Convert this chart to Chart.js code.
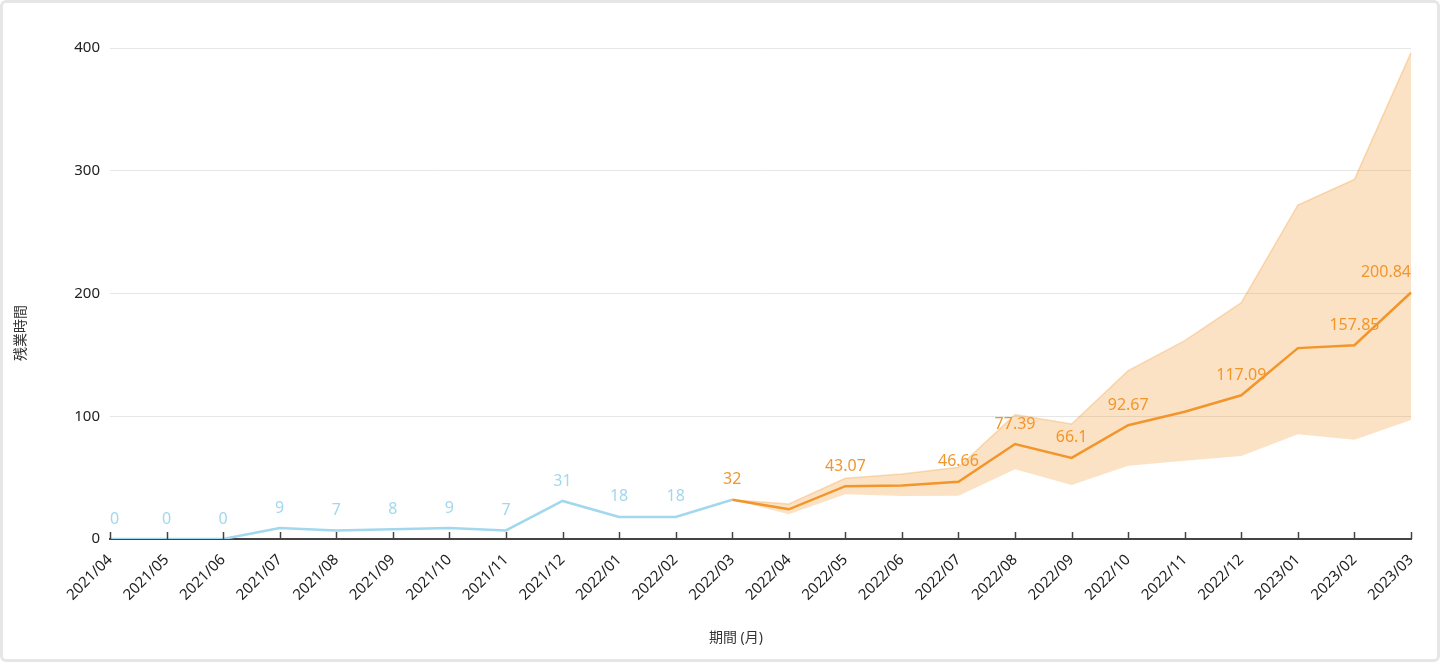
<!DOCTYPE html>
<html lang="ja">
<head>
<meta charset="utf-8">
<title>残業時間</title>
<script src="https://cdn.jsdelivr.net/npm/chart.js@4.4.1/dist/chart.umd.min.js"></script>
<style>
    html, body { margin: 0; padding: 0; background: #fff; }
    #wrap { position: relative; width: 1440px; height: 662px; }
    #frame {
        position: absolute; left: 0; top: 0; right: 0; bottom: 0;
        border: 3px solid #e6e6e6; border-radius: 6px; pointer-events: none;
    }
</style>
</head>
<body>
<div id="wrap">
    <canvas id="chart" width="1440" height="662"></canvas>
    <div id="frame"></div>
</div>
<script>
// months on the x axis
const months = [
    '2021/04', '2021/05', '2021/06', '2021/07', '2021/08', '2021/09',
    '2021/10', '2021/11', '2021/12', '2022/01', '2022/02', '2022/03',
    '2022/04', '2022/05', '2022/06', '2022/07', '2022/08', '2022/09',
    '2022/10', '2022/11', '2022/12', '2023/01', '2023/02', '2023/03'
];

// actual overtime hours
const actualHours = [0, 0, 0, 9, 7, 8, 9, 7, 31, 18, 18, 32,
    null, null, null, null, null, null, null, null, null, null, null, null];

// forecast (starts at the last actual month)
const forecastHours = [null, null, null, null, null, null, null, null, null, null, null,
    32, 24.2, 43.07, 43.5, 46.66, 77.39, 66.1, 92.67, 103.7, 117.09, 155.5, 157.85, 200.84];

// forecast range
const forecastUpper = [null, null, null, null, null, null, null, null, null, null, null,
    32, 28.5, 49.4, 53, 58.4, 101.3, 93.7, 137.1, 161.6, 192.5, 272.1, 293, 396.2];
const forecastLower = [null, null, null, null, null, null, null, null, null, null, null,
    32, 20.1, 36.4, 35, 35.3, 56.8, 44, 59.7, 63.8, 67.6, 85.3, 80.9, 97];

// months whose forecast value has no label
const unlabeledMonths = ['2022/04', '2022/06', '2022/11', '2023/01'];

const yTicks = [0, 100, 200, 300, 400];

const blue = '#a2d8ee';
const orange = '#f2962c';
const fontFamily = '"Noto Sans", "Noto Sans CJK JP", sans-serif';

// value labels above the points, kept inside the plot area
const valueLabels = {
    id: 'valueLabels',
    afterDatasetsDraw(chart) {
        const { ctx, chartArea } = chart;
        ctx.save();
        ctx.font = '16px ' + fontFamily;
        ctx.textBaseline = 'middle';
        [0, 1].forEach(di => {
            const meta = chart.getDatasetMeta(di);
            const ds = chart.data.datasets[di];
            meta.data.forEach((pt, i) => {
                const v = ds.data[i];
                if (v === null) return;
                if (di === 0 && forecastHours[i] !== null) return;
                if (di === 1 && unlabeledMonths.includes(months[i])) return;
                const text = String(v);
                const w = ctx.measureText(text).width;
                let x = pt.x - w / 2;
                x = Math.max(chartArea.left, Math.min(chartArea.right - w, x));
                ctx.fillStyle = ds.borderColor;
                ctx.fillText(text, x, pt.y - 20);
            });
        });
        ctx.restore();
    }
};

// small tick marks inside the plot, plus the axis titles
const axisExtras = {
    id: 'axisExtras',
    afterDraw(chart) {
        const { ctx, chartArea } = chart;
        const x = chart.scales.x;
        ctx.save();
        ctx.strokeStyle = '#444';
        ctx.lineWidth = 1.5;
        x.ticks.forEach((t, i) => {
            const px = Math.round(x.getPixelForTick(i)) + 0.5;
            ctx.beginPath();
            ctx.moveTo(px, chartArea.bottom - 7);
            ctx.lineTo(px, chartArea.bottom);
            ctx.stroke();
        });

        ctx.fillStyle = '#333';
        ctx.font = '14px ' + fontFamily;
        ctx.textAlign = 'center';
        ctx.textBaseline = 'middle';
        ctx.fillText('期間 (月)', 736, 638);

        ctx.translate(21, 333);
        ctx.rotate(-Math.PI / 2);
        ctx.fillText('残業時間', 0, 0);
        ctx.restore();
    }
};

new Chart(document.getElementById('chart'), {
    type: 'line',
    data: {
        labels: months,
        datasets: [
            {
                label: '実績',
                data: actualHours,
                borderColor: blue,
                borderWidth: 2.5,
                pointRadius: 0,
                tension: 0,
                fill: false
            },
            {
                label: '予測',
                data: forecastHours,
                borderColor: orange,
                borderWidth: 2.5,
                pointRadius: 0,
                tension: 0,
                fill: false
            },
            {
                label: '上限',
                data: forecastUpper,
                borderColor: 'rgba(242, 150, 44, 0.3)',
                borderWidth: 1.5,
                pointRadius: 0,
                tension: 0,
                fill: false
            },
            {
                label: '下限',
                data: forecastLower,
                borderColor: 'rgba(242, 150, 44, 0)',
                borderWidth: 0,
                backgroundColor: 'rgba(242, 150, 44, 0.28)',
                pointRadius: 0,
                tension: 0,
                fill: '-1'
            }
        ]
    },
    options: {
        responsive: false,
        animation: false,
        layout: { padding: { top: 48, right: 29, left: 0, bottom: 0 } },
        plugins: {
            legend: { display: false },
            tooltip: { enabled: false }
        },
        scales: {
            x: {
                offset: false,
                grid: { display: false },
                border: { display: true, color: '#444', width: 2 },
                ticks: {
                    autoSkip: false,
                    minRotation: 45,
                    maxRotation: 45,
                    padding: 4,
                    color: '#222',
                    font: { size: 15, family: fontFamily }
                },
                afterFit(scale) { scale.height = 123; }
            },
            y: {
                min: 0,
                max: 400,
                afterBuildTicks(scale) { scale.ticks = yTicks.map(v => ({ value: v })); },
                grid: { color: '#e6e6e6', drawTicks: false },
                border: { display: false },
                ticks: {
                    padding: 10,
                    color: '#222',
                    font: { size: 15, family: fontFamily }
                },
                afterFit(scale) { scale.width = 110; }
            }
        }
    },
    plugins: [valueLabels, axisExtras]
});
</script>
</body>
</html>
